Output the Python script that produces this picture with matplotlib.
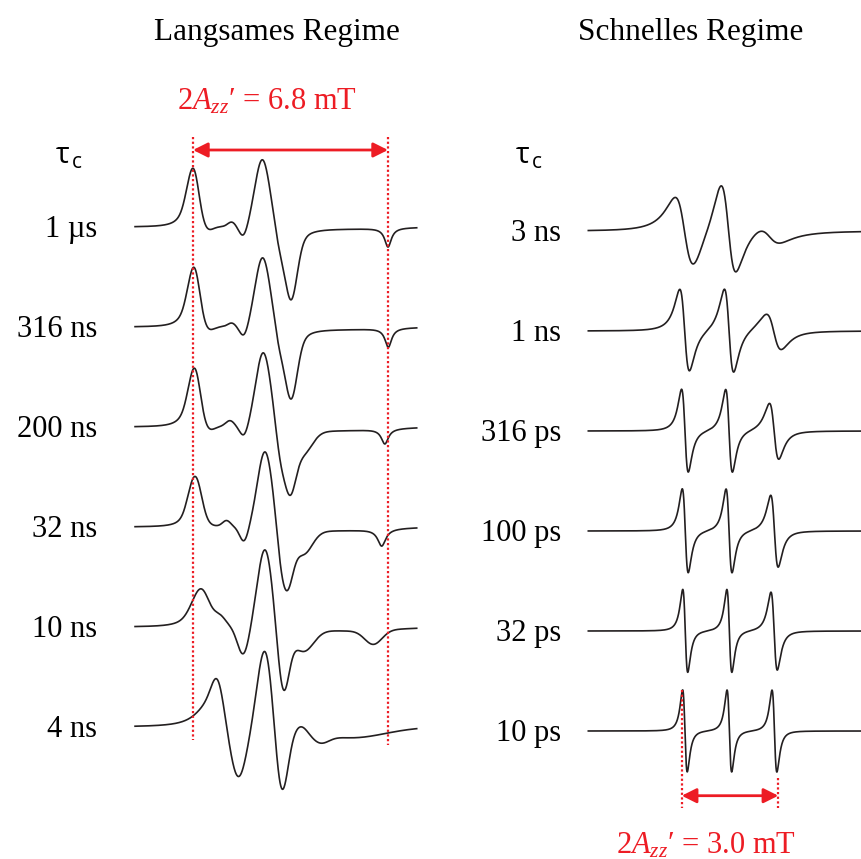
# =============================================================================
# ESR-Spektren eines Nitroxids: langsames und schnelles Regime
# =============================================================================
import matplotlib.pyplot as plt
import numpy as np

plt.rcParams['font.family'] = ['Liberation Serif', 'DejaVu Serif']
plt.rcParams['mathtext.fontset'] = 'custom'
plt.rcParams['mathtext.rm'] = 'Liberation Serif'
plt.rcParams['mathtext.it'] = 'Liberation Serif:italic'

# =============================================================================
# Data
# each component: (kind, position / mT, width / mT, amplitude / a.u.)
#   'g' = gaussian absorption-like bump, 'd' = lorentzian first derivative,
#   'a' = lorentzian absorption
# =============================================================================
slow_labels = ['1 µs', '316 ns', '200 ns', '32 ns', '10 ns', '4 ns']
fast_labels = ['3 ns', '1 ns', '316 ps', '100 ps', '32 ps', '10 ps']

slow_1us = [('a', -0.25, 0.30, 16), ('g', 0.02, 0.19, 50), ('g', 0.50, 0.20, -5),
            ('g', 1.35, 0.14, 5), ('g', 1.76, 0.14, -10), ('g', 2.42, 0.26, 69),
            ('g', 3.00, 0.14, -12), ('g', 3.40, 0.21, -58), ('a', 3.55, 0.40, -16),
            ('g', 5.30, 1.39, -1.5), ('a', 6.80, 0.14, -19)]
slow_316ns = [('a', -0.22, 0.30, 16), ('g', 0.05, 0.19, 51), ('g', 0.53, 0.20, -5),
              ('g', 1.35, 0.14, 4), ('g', 1.78, 0.14, -10), ('g', 2.43, 0.26, 71),
              ('g', 3.00, 0.14, -12), ('g', 3.40, 0.21, -57), ('a', 3.55, 0.40, -16),
              ('g', 5.30, 1.39, -2), ('a', 6.81, 0.14, -19)]
slow_200ns = [('a', -0.20, 0.30, 16), ('g', 0.07, 0.19, 50), ('g', 0.55, 0.20, -5),
              ('g', 1.29, 0.15, 6), ('g', 1.78, 0.14, -10), ('g', 2.45, 0.26, 75),
              ('g', 3.03, 0.15, -20), ('g', 3.37, 0.21, -58), ('g', 3.85, 0.30, -18),
              ('a', 3.90, 0.50, -6), ('g', 5.30, 1.39, -3), ('a', 6.69, 0.15, -15)]
slow_32ns = [('a', -0.15, 0.30, 14), ('g', 0.10, 0.21, 42), ('g', 1.17, 0.14, 6),
             ('g', 1.78, 0.15, -15), ('g', 2.51, 0.26, 76), ('g', 3.03, 0.14, -12),
             ('g', 3.27, 0.21, -56), ('g', 3.85, 0.30, -20), ('a', 3.90, 0.50, -5),
             ('g', 5.30, 1.39, -3), ('a', 6.58, 0.17, -17)]
slow_10ns = [('a', -0.10, 0.45, 9), ('g', 0.30, 0.28, 33), ('g', 0.94, 0.20, 9),
             ('g', 1.75, 0.20, -28), ('g', 2.51, 0.26, 78), ('g', 3.15, 0.20, -62),
             ('g', 3.85, 0.35, -22), ('g', 5.40, 1.60, -4), ('g', 6.29, 0.30, -14)]
slow_4ns = [('a', 0.45, 0.50, 20), ('g', 0.85, 0.22, 37), ('g', 1.58, 0.28, -53),
            ('g', 2.51, 0.26, 77), ('g', 3.09, 0.22, -67), ('g', 3.79, 0.20, 5),
            ('g', 4.43, 0.30, -9), ('g', 5.50, 1.20, -11)]

fast_3ns = [('d', 0.08, 0.49, 32), ('g', 0.40, 0.20, -6), ('d', 1.45, 0.40, 41),
            ('g', 1.22, 0.20, 9), ('d', 2.72, 0.58, 8), ('a', 3.20, 1.00, -2)]
fast_1ns = [('d', 0.09, 0.26, 41), ('d', 1.47, 0.25, 42), ('d', 2.86, 0.40, 18)]
fast_316ps = [('d', 0.10, 0.18, 41.5), ('d', 1.47, 0.18, 41.5), ('d', 2.87, 0.25, 28)]
fast_100ps = [('d', 0.11, 0.16, 42), ('d', 1.47, 0.16, 42), ('d', 2.88, 0.20, 36)]
fast_32ps = [('d', 0.11, 0.134, 41.5), ('d', 1.48, 0.134, 41.5), ('d', 2.87, 0.17, 39)]
fast_10ps = [('d', 0.10, 0.124, 41), ('d', 1.48, 0.124, 41), ('d', 2.88, 0.13, 41)]

slow_spectra = [slow_1us, slow_316ns, slow_200ns, slow_32ns, slow_10ns, slow_4ns]
fast_spectra = [fast_3ns, fast_1ns, fast_316ps, fast_100ps, fast_32ps, fast_10ps]

slow_field = (-2.02, 7.80)   # mT, sweep window of the left column
fast_field = (-2.90, 5.59)   # mT, sweep window of the right column
slow_split = 6.8             # 2Azz' / mT
fast_split = 3.0
spacing = 100                # vertical offset between traces (a.u.)

RED = '#ed1c24'
INK = '#231f20'


def component(kind, b, b0, w, h):
    u = (b - b0) / w
    if kind == 'g':
        return h * np.exp(-u ** 2 / 2)
    if kind == 'a':
        return h / (1 + u ** 2)
    # derivative of a lorentzian, scaled so the positive lobe equals h
    return h * (-2 * u / (1 + u ** 2) ** 2) / (3 * np.sqrt(3) / 8)


def spectrum(b, comps):
    y = np.zeros_like(b)
    for kind, b0, w, h in comps:
        y += component(kind, b, b0, w, h)
    return y


# =============================================================================
# Figure
# =============================================================================
W, H = 862, 859
fig = plt.figure(figsize=(W / 100, H / 100), dpi=100)

# left column: 28.68 px per mT, first trace baseline at y = 227 px
ax_l = fig.add_axes([120 / W, 1 - 830 / H, 310 / W, 730 / H])
ax_l.set_xlim(-2.545, 8.264)
ax_l.set_ylim(-603, 127)
# right column: 32.2 px per mT, first trace baseline at y = 231 px
ax_r = fig.add_axes([575 / W, 1 - 830 / H, 287 / W, 730 / H])
ax_r.set_xlim(-3.314, 5.599)
ax_r.set_ylim(-599, 131)
for ax in (ax_l, ax_r):
    ax.axis('off')

b_slow = np.linspace(*slow_field, 2000)
b_fast = np.linspace(*fast_field, 2000)

for i, (comps, lab) in enumerate(zip(slow_spectra, slow_labels)):
    off = -i * spacing
    ax_l.plot(b_slow, off + spectrum(b_slow, comps), color=INK, lw=1.2)
    ax_l.text(-3.35, off - 10, lab, ha='right', va='baseline', fontsize=22,
              clip_on=False)

for i, (comps, lab) in enumerate(zip(fast_spectra, fast_labels)):
    off = -i * spacing
    ax_r.plot(b_fast, off + spectrum(b_fast, comps), color=INK, lw=1.2)
    ax_r.text(-3.75, off - 10, lab, ha='right', va='baseline', fontsize=22,
              clip_on=False)

# =============================================================================
# Splitting markers
# =============================================================================
dots = dict(color=RED, lw=1.6, linestyle=(0, (1, 1.1)))
arrow = dict(arrowstyle='<|-|>', color=RED, lw=2, mutation_scale=22,
             shrinkA=0, shrinkB=0)

ax_l.plot([0, 0], [90, -513], **dots)
ax_l.plot([slow_split, slow_split], [90, -518], **dots)
ax_l.annotate('', xy=(slow_split, 77), xytext=(0, 77), arrowprops=arrow)

ax_r.plot([0, 0], [-459, -577], **dots)
ax_r.plot([fast_split, fast_split], [-547, -577], **dots)
ax_r.annotate('', xy=(fast_split, -564.7), xytext=(0, -564.7), arrowprops=arrow)

# =============================================================================
# Text
# =============================================================================
def ftext(x, y, s, **kw):
    fig.text(x / W, 1 - y / H, s, **kw)


ftext(277, 40, 'Langsames Regime', ha='center', va='baseline', fontsize=22.5)
ftext(691, 40, 'Schnelles Regime', ha='center', va='baseline', fontsize=22.5)
ftext(267, 110, "2$A_{zz}$′ = %.1f mT" % slow_split, ha='center', va='baseline',
      fontsize=22, color=RED)
ftext(706, 853, "2$A_{zz}$′ = %.1f mT" % fast_split, ha='center', va='baseline',
      fontsize=22, color=RED)

for x in (63, 523):
    ftext(x, 163, 'τ', ha='center', va='baseline', fontsize=21,
          family=['Open Sans', 'DejaVu Sans'])
    ftext(x + 14, 168, 'c', ha='center', va='baseline', fontsize=15,
          family=['Open Sans', 'DejaVu Sans'])

fig.savefig('out.png', dpi=100)
